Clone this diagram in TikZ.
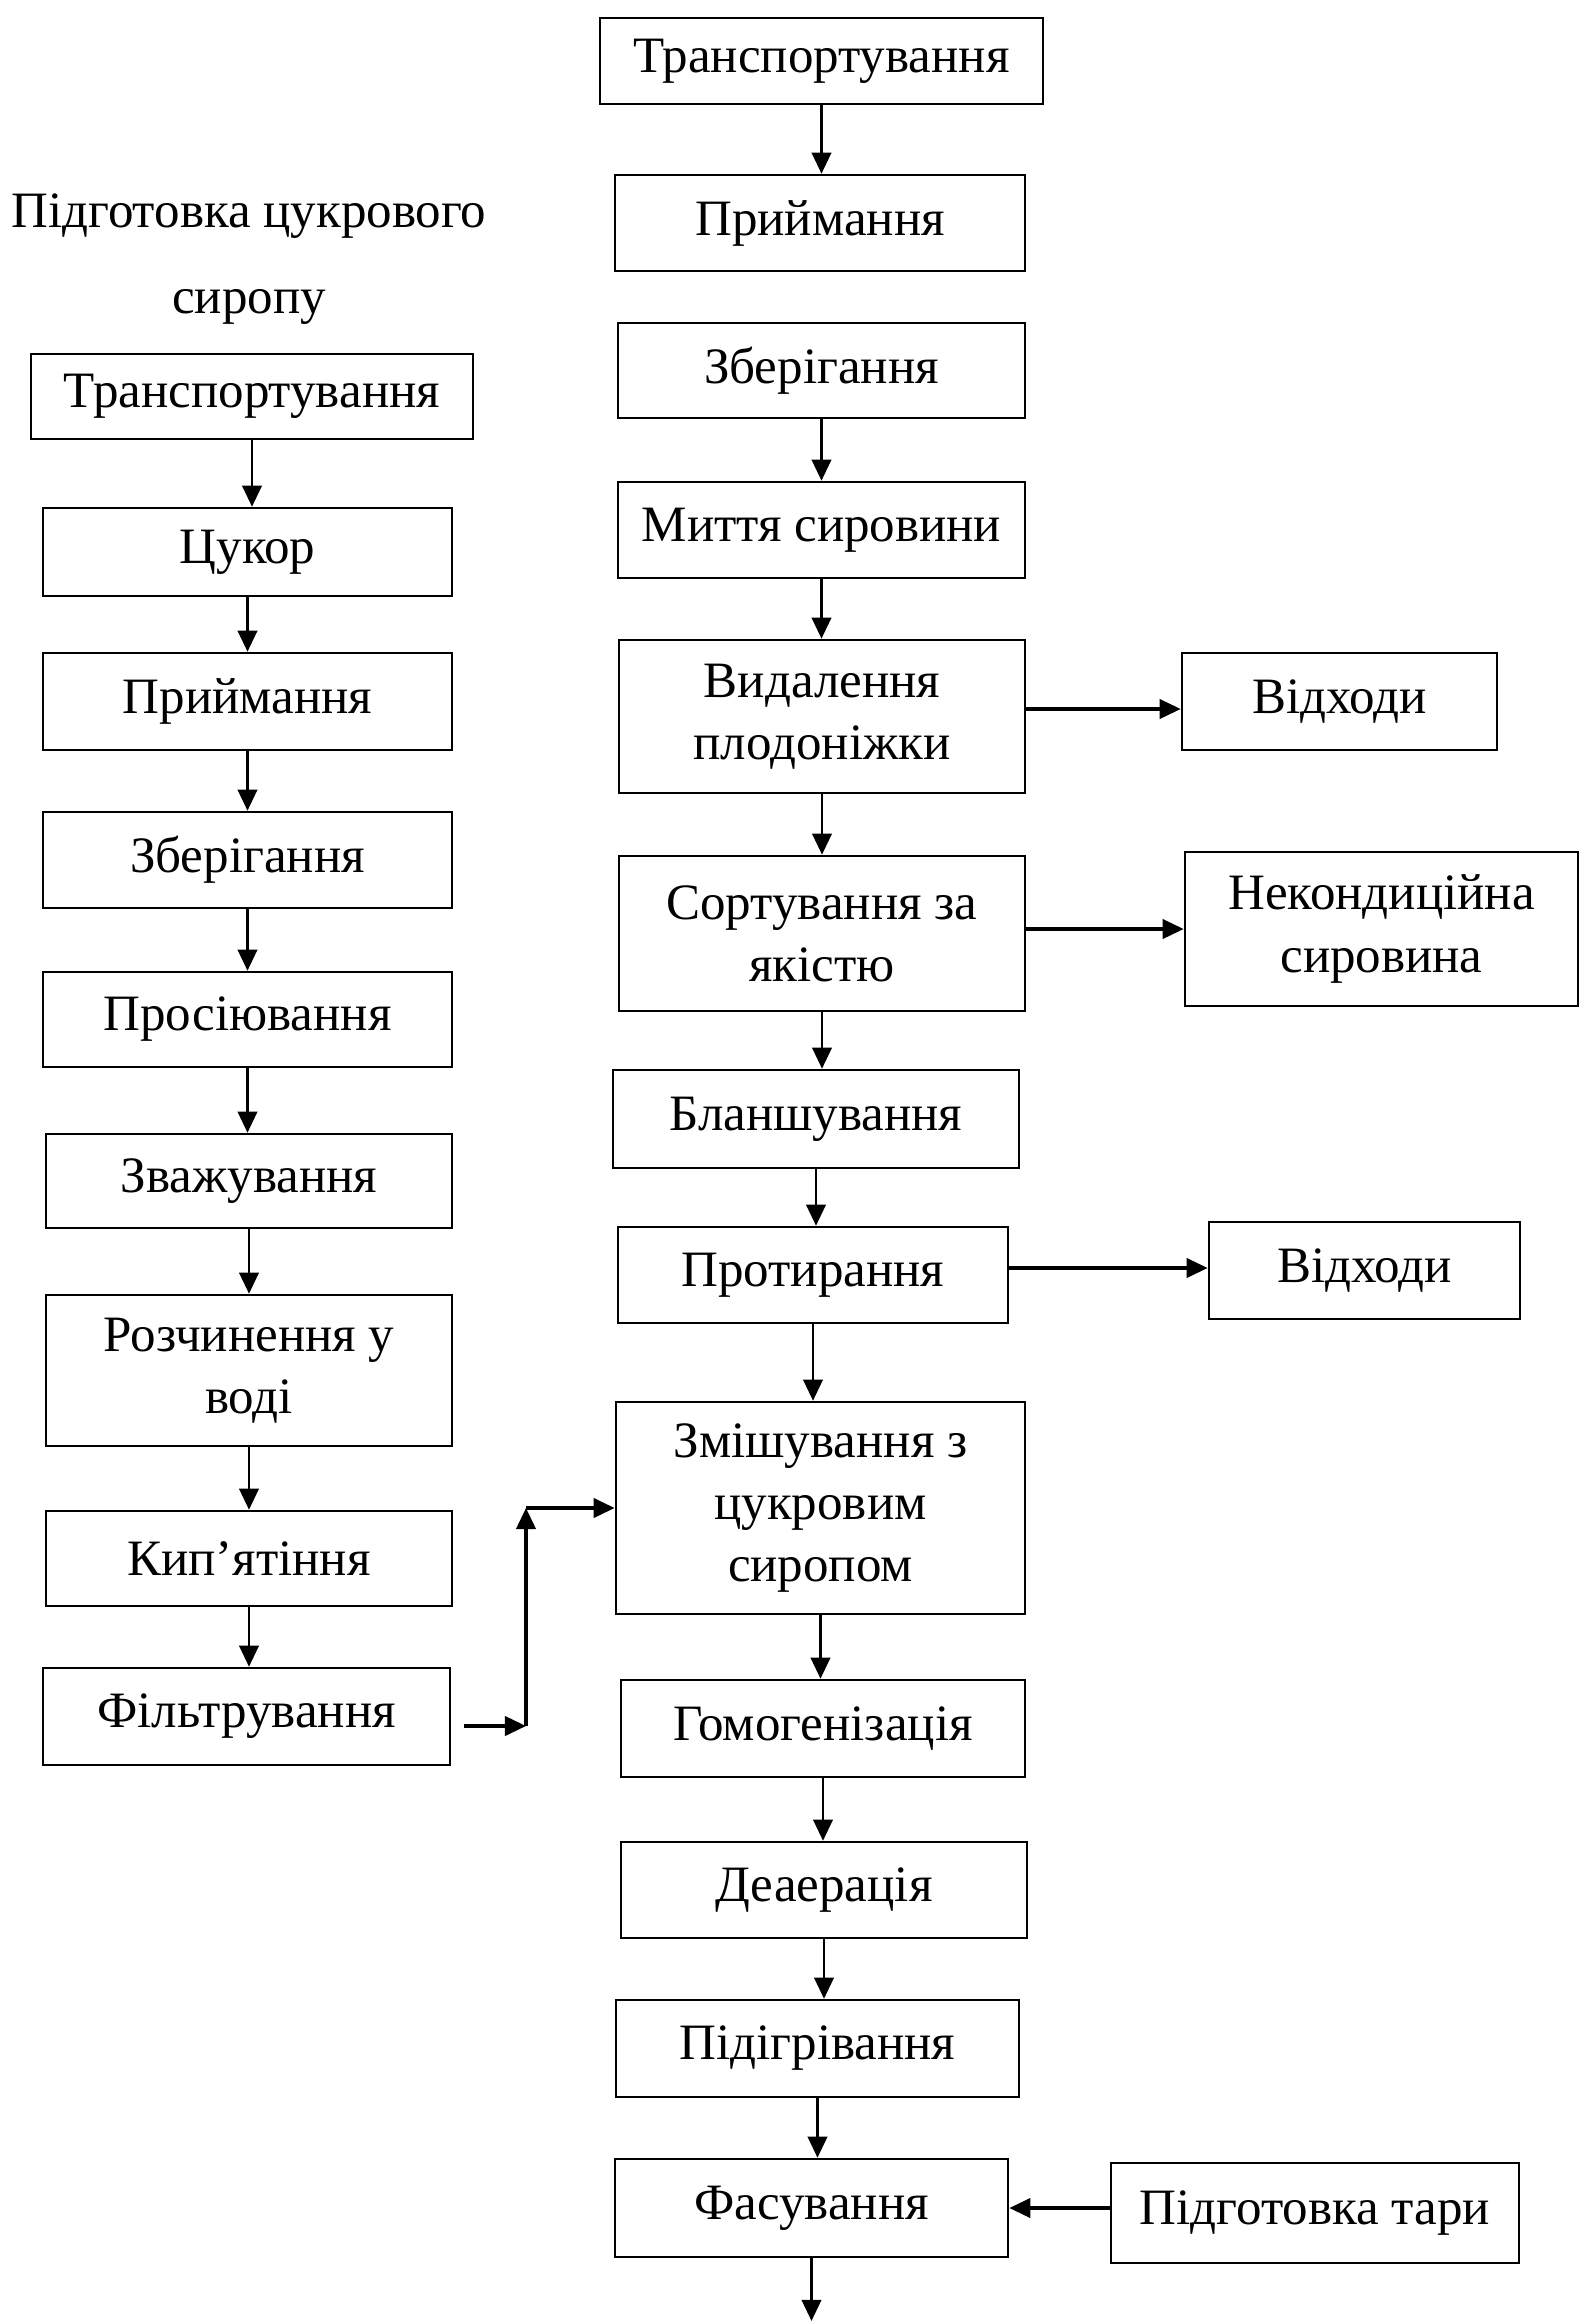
\documentclass[tikz,border=0pt]{standalone}
\usepackage{fontspec}
\setmainfont{Liberation Serif}
\usepackage{tikz}
\usetikzlibrary{arrows.meta}

\begin{document}
\begin{tikzpicture}[x=0.01cm, y=-0.01cm,
  box/.style={draw, line width=0.7pt, align=center, inner sep=2pt, font=\fontsize{14.5}{17.7}\selectfont},
  arr/.style={-{Triangle[length=6pt,width=5.5pt]}, line width=0.8pt},
  sidearr/.style={arr, line width=0.9pt}]
\useasboundingbox (0,0) rectangle (1581,2323);

% main line
\node[box, minimum width=4.43cm, minimum height=0.86cm] (rtrans) at (821.5,61) {Транспортування};
\node[box, minimum width=4.10cm, minimum height=0.96cm] (rpriym) at (820,223) {Приймання};
\node[box, minimum width=4.07cm, minimum height=0.95cm] (rzber) at (821.5,370.5) {Зберігання};
\node[box, minimum width=4.07cm, minimum height=0.96cm] (rmyt) at (821.5,530) {Миття сировини};
\node[box, minimum width=4.06cm, minimum height=1.53cm] (rvydal) at (822,716.5) {Видалення\\плодоніжки};
\node[box, minimum width=4.06cm, minimum height=1.55cm] (rsort) at (822,933.5) {Сортування за\\якістю};
\node[box, minimum width=4.06cm, minimum height=0.98cm] (rblansh) at (816,1119) {Бланшування};
\node[box, minimum width=3.90cm, minimum height=0.96cm] (rprotyr) at (813,1275) {Протирання};
\node[box, minimum width=4.09cm, minimum height=2.12cm] (rzmish) at (820.5,1508) {Змішування з\\цукровим\\сиропом};
\node[box, minimum width=4.04cm, minimum height=0.97cm] (rgomog) at (823,1728.5) {Гомогенізація};
\node[box, minimum width=4.06cm, minimum height=0.96cm] (rdeaer) at (824,1890) {Деаерація};
\node[box, minimum width=4.03cm, minimum height=0.97cm] (rpidigr) at (817.5,2048.5) {Підігрівання};
\node[box, minimum width=3.93cm, minimum height=0.98cm] (rfasuv) at (811.5,2208) {Фасування};

% side boxes
\node[box, minimum width=3.15cm, minimum height=0.97cm] (vidh1) at (1339.5,701.5) {Відходи};
\node[box, minimum width=3.93cm, minimum height=1.54cm] (nekond) at (1381.5,929) {Некондиційна\\сировина};
\node[box, minimum width=3.11cm, minimum height=0.97cm] (vidh2) at (1364.5,1270.5) {Відходи};
\node[box, minimum width=4.08cm, minimum height=1.00cm] (tara) at (1315,2213) {Підготовка тари};

% sugar syrup line
\node[align=center, font=\fontsize{14.5}{24.5}\selectfont] (title) at (249,259) {Підготовка цукрового\\сиропу};
\node[box, minimum width=4.42cm, minimum height=0.85cm] (ltrans) at (252,396.5) {Транспортування};
\node[box, minimum width=4.09cm, minimum height=0.88cm] (lcukor) at (247.5,552) {Цукор};
\node[box, minimum width=4.09cm, minimum height=0.97cm] (lpriym) at (247.5,701.5) {Приймання};
\node[box, minimum width=4.09cm, minimum height=0.96cm] (lzber) at (247.5,860) {Зберігання};
\node[box, minimum width=4.09cm, minimum height=0.95cm] (lprosi) at (247.5,1019.5) {Просіювання};
\node[box, minimum width=4.06cm, minimum height=0.94cm] (lzvazh) at (249,1181) {Зважування};
\node[box, minimum width=4.06cm, minimum height=1.51cm] (lrozch) at (249,1370.5) {Розчинення у\\воді};
\node[box, minimum width=4.06cm, minimum height=0.95cm] (lkyp) at (249,1558.5) {Кип’ятіння};
\node[box, minimum width=4.07cm, minimum height=0.97cm] (lfiltr) at (246.5,1716.5) {Фільтрування};

% vertical arrows
\foreach \a/\b in {rtrans/rpriym, rzber/rmyt, rmyt/rvydal, rvydal/rsort, rsort/rblansh,
  rblansh/rprotyr, rprotyr/rzmish, rzmish/rgomog, rgomog/rdeaer, rdeaer/rpidigr, rpidigr/rfasuv,
  ltrans/lcukor, lcukor/lpriym, lpriym/lzber, lzber/lprosi, lprosi/lzvazh, lzvazh/lrozch,
  lrozch/lkyp, lkyp/lfiltr}
  \draw[arr] (\a.south) -- (\a.south |- \b.north);

\coordinate (kin) at (811.5,2321);
\draw[arr] (rfasuv.south) -- (kin);

% side arrows
\draw[sidearr] (rvydal.east |- 0,709) -- (vidh1.west |- 0,709);
\draw[sidearr] (rsort.east |- nekond.west) -- (nekond.west);
\draw[sidearr] (rprotyr.east |- 0,1268) -- (vidh2.west |- 0,1268);
\draw[sidearr] (tara.west |- rfasuv.east) -- (rfasuv.east);

% syrup into mixing
\coordinate (fstart) at (464,1726);
\coordinate (fbend) at (526,1726);
\draw[sidearr] (fstart) -- (fbend);
\draw[sidearr] (fbend) -- (fbend |- rzmish.west);
\draw[sidearr] (fbend |- rzmish.west) -- (rzmish.west);
\end{tikzpicture}
\end{document}
